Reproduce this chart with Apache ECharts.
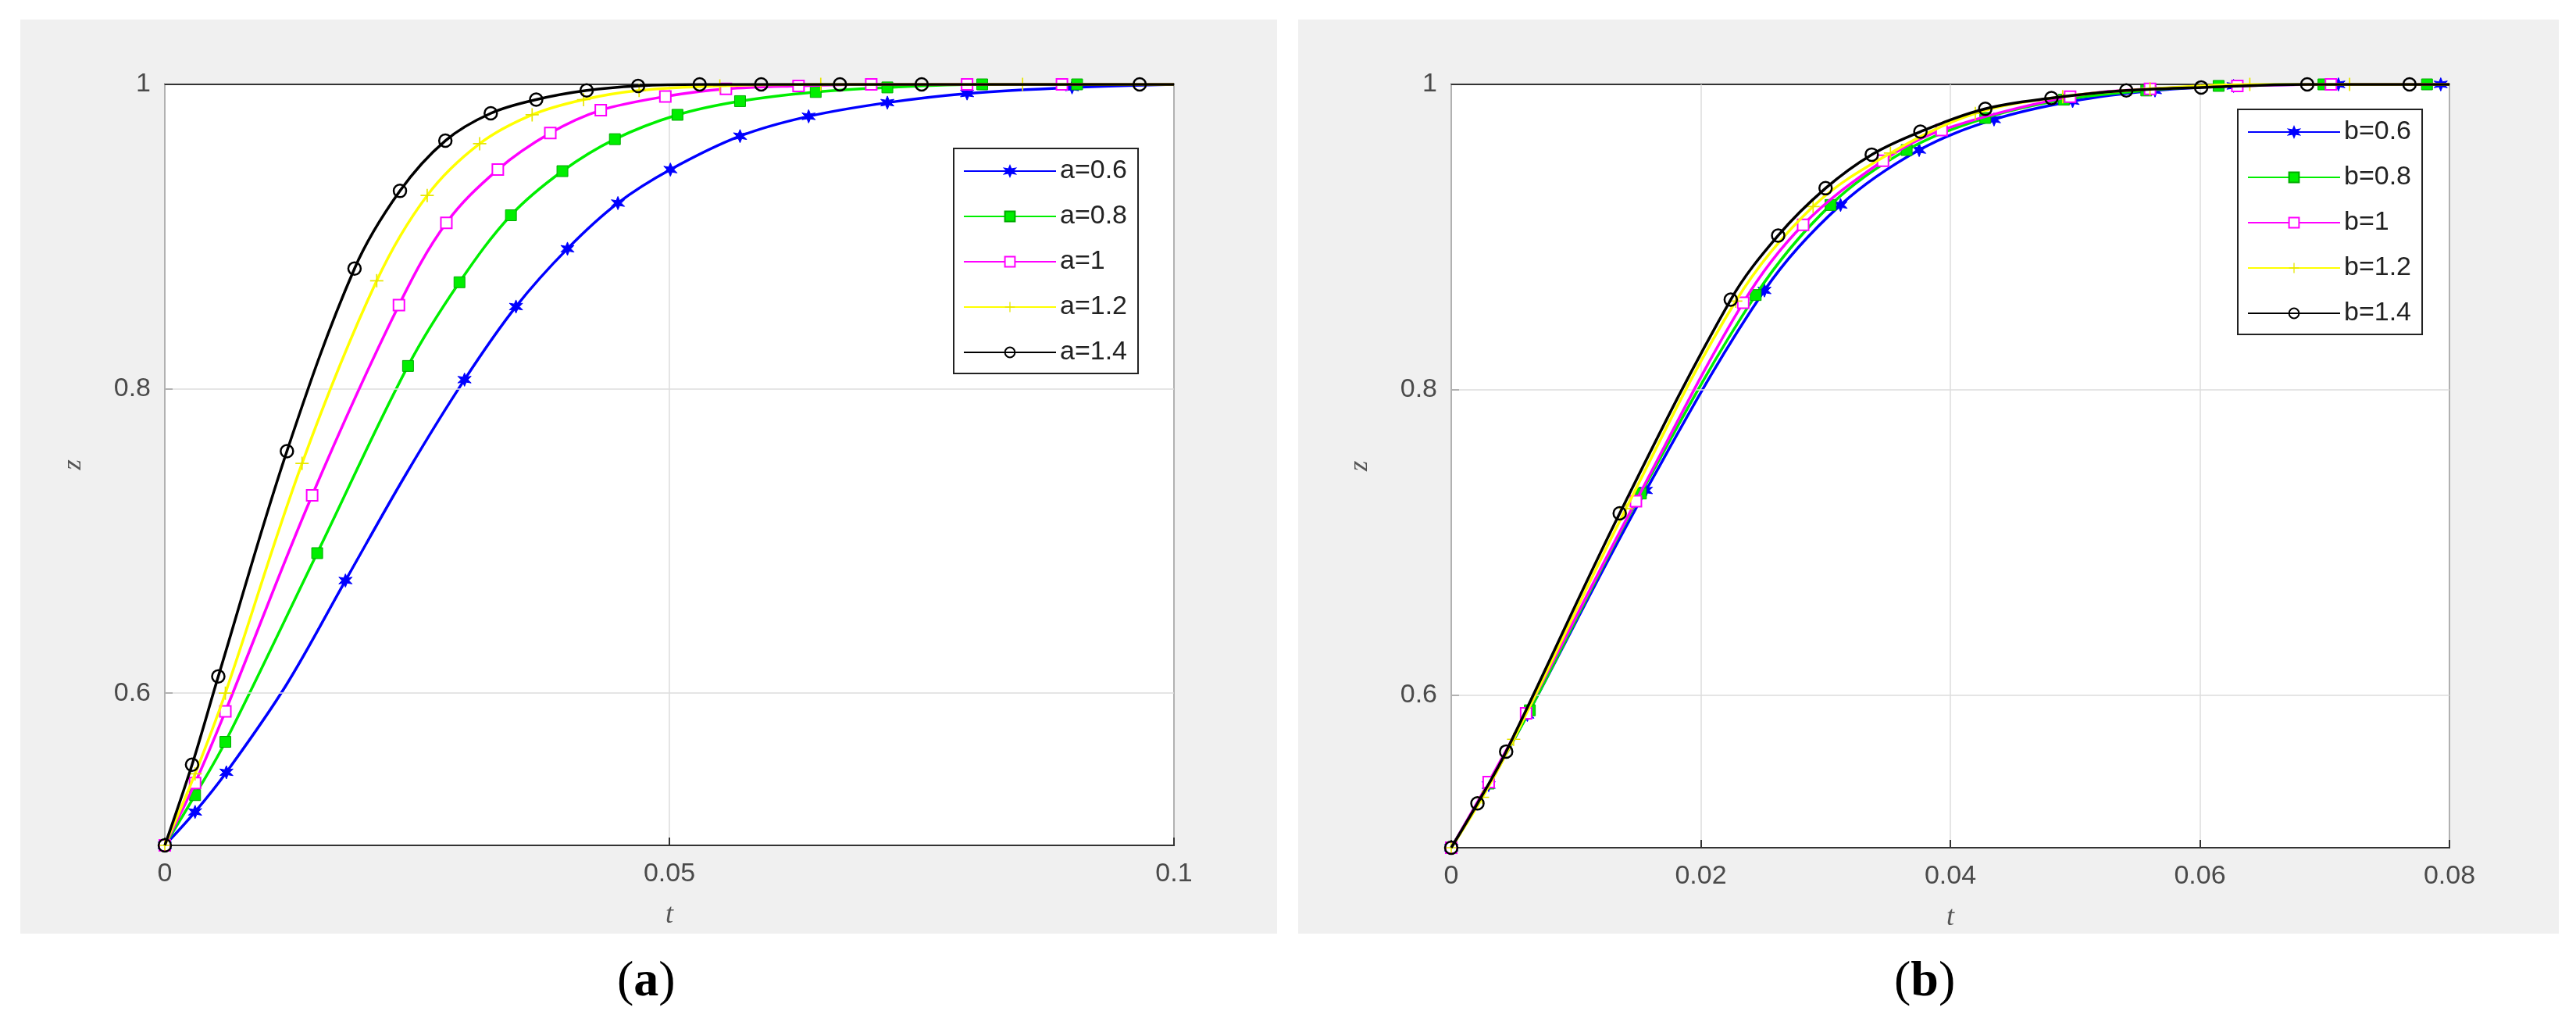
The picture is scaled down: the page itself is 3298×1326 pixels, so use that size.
<!DOCTYPE html>
<html><head><meta charset="utf-8">
<script src="https://cdn.jsdelivr.net/npm/echarts@6/dist/echarts.min.js"></script>
<style>html,body{margin:0;padding:0;background:#fff}#c{width:3298px;height:1326px}</style>
</head><body><div id="c"></div>
<script>
// Panel (a)
const a06 = [[0,0.5],[0.003,0.522],[0.0061,0.548],[0.012,0.605],[0.0179,0.674],[0.024,0.745],[0.0297,0.806],[0.0348,0.854],[0.0399,0.892],[0.0449,0.922],[0.0501,0.944],[0.057,0.966],[0.0638,0.979],[0.0716,0.988],[0.0795,0.994],[0.0899,0.998],[0.1,1.0]];
const a08 = [[0,0.5],[0.003,0.533],[0.006,0.568],[0.0151,0.692],[0.0241,0.815],[0.0292,0.870],[0.0343,0.914],[0.0394,0.943],[0.0446,0.964],[0.0508,0.980],[0.057,0.989],[0.0645,0.995],[0.0716,0.998],[0.081,1.0],[0.0904,1.0],[0.1,1.0]];
const a10 = [[0,0.5],[0.003,0.541],[0.006,0.588],[0.0146,0.730],[0.0232,0.855],[0.0279,0.909],[0.033,0.944],[0.0382,0.968],[0.0432,0.983],[0.0496,0.992],[0.0556,0.997],[0.0628,0.999],[0.07,1.0],[0.0795,1.0],[0.0889,1.0],[0.1,1.0]];
const a12 = [[0,0.5],[0.003,0.547],[0.006,0.600],[0.0136,0.751],[0.021,0.871],[0.026,0.927],[0.0312,0.961],[0.0364,0.980],[0.0415,0.990],[0.047,0.996],[0.055,0.999],[0.065,1.0],[0.085,1.0],[0.1,1.0]];
const a14 = [[0,0.5],[0.0027,0.553],[0.0053,0.611],[0.0121,0.759],[0.0188,0.879],[0.0233,0.930],[0.0278,0.963],[0.0323,0.981],[0.0368,0.990],[0.0418,0.996],[0.0469,0.999],[0.053,1.0],[0.0591,1.0],[0.0669,1.0],[0.075,1.0],[0.0966,1.0],[0.1,1.0]];
// Panel (b)
const b06 = [[0,0.5],[0.003,0.541],[0.0061,0.587],[0.0156,0.734],[0.0251,0.865],[0.0312,0.921],[0.0375,0.957],[0.0435,0.977],[0.0498,0.989],[0.0564,0.996],[0.0627,0.999],[0.0711,1.0],[0.0793,1.0],[0.08,1.0]];
const b08 = [[0,0.5],[0.003,0.542],[0.0063,0.590],[0.0152,0.732],[0.0244,0.862],[0.0304,0.921],[0.0365,0.957],[0.0428,0.978],[0.0491,0.990],[0.0557,0.996],[0.0615,0.999],[0.0699,1.0],[0.0782,1.0],[0.08,1.0]];
const b10 = [[0,0.5],[0.003,0.543],[0.006,0.588],[0.0148,0.727],[0.0234,0.857],[0.0282,0.908],[0.0346,0.950],[0.0393,0.970],[0.0496,0.992],[0.0560,0.997],[0.0630,0.999],[0.0705,1.0],[0.08,1.0]];
const b12 = [[0,0.5],[0.0025,0.533],[0.005,0.571],[0.0140,0.722],[0.0228,0.858],[0.0290,0.920],[0.0352,0.955],[0.0420,0.981],[0.0490,0.992],[0.0560,0.997],[0.0640,1.0],[0.0720,1.0],[0.08,1.0]];
const b14 = [[0,0.5],[0.0021,0.529],[0.0044,0.563],[0.0135,0.719],[0.0224,0.859],[0.0262,0.901],[0.030,0.932],[0.0337,0.954],[0.0376,0.969],[0.0428,0.984],[0.0481,0.991],[0.0541,0.996],[0.0601,0.998],[0.0686,1.0],[0.0768,1.0],[0.08,1.0]];
// t values on curve without a marker (curve-shape points and axis-end points)
const unmarkedT = [0.012,0.024,0.1,0.08];
const namesA = ['a=0.6','a=0.8','a=1','a=1.2','a=1.4'];
const namesB = ['b=0.6','b=0.8','b=1','b=1.2','b=1.4'];
const yTicks = [0.6,0.8,1];

const colors = ['#0000ff','#00ee00','#ff00ff','#ffff00','#000000'];
const star = 'path://M50,0 L61,31 L93,25 L72,50 L93,75 L61,69 L50,100 L39,69 L7,75 L28,50 L7,25 L39,31 Z';
const plus = 'path://M45,0 H55 V45 H100 V55 H55 V100 H45 V55 H0 V45 H45 Z';
const symList = [star,'rect','rect',plus,'circle'];
const symStyle = [
  {color:'#0000ff',borderColor:'#0000ff',borderWidth:1},
  {color:'#00ee00',borderColor:'#00aa00',borderWidth:1},
  {color:'#fff',borderColor:'#ff00ff',borderWidth:2},
  {color:'#e6e600',borderColor:'#e6e600',borderWidth:0},
  {color:'rgba(255,255,255,0)',borderColor:'#000',borderWidth:2.5}
];
const symSize = [17,14,14,17,16];

function mk(data, names, gi){
  return data.map((d,i)=>({
    name:names[i], type:'line', xAxisIndex:gi, yAxisIndex:gi,
    data:d.map(p=>unmarkedT.includes(p[0])?{value:p,symbol:'none'}:p), smooth:0.35,
    symbol:symList[i], symbolSize:symSize[i], showAllSymbol:true,
    lineStyle:{color:colors[i],width:3.5}, itemStyle:symStyle[i], z:3+i,
    markLine: i===0 ? {silent:true,symbol:'none',label:{show:false},
      lineStyle:{color:'#dcdcdc',width:1.5,type:'solid'},
      data:[{yAxis:0.6},{yAxis:0.8}]} : undefined
  }));
}
const lab = {color:'#4a4a4a',fontSize:34,fontFamily:'Liberation Sans, Arial'};
function xax(gi,max,intv){return {type:'value',gridIndex:gi,min:0,max:max,interval:intv,
  axisLine:{show:false},axisTick:{inside:true,length:10,lineStyle:{color:'#333',width:2}},
  axisLabel:Object.assign({margin:20,formatter:v=>String(+v.toFixed(3))},lab),
  splitLine:{show:true,lineStyle:{color:'#dcdcdc',width:1.5}},
  name:'t',nameLocation:'middle',nameGap:72,nameTextStyle:{color:'#555',fontSize:36,fontStyle:'italic',fontFamily:'Liberation Serif'}};}
function yax(gi){return {type:'value',gridIndex:gi,min:0.5,max:1,
  axisLine:{show:false},
  axisTick:{inside:true,length:10,customValues:yTicks,lineStyle:{color:'#333',width:2}},
  axisLabel:Object.assign({margin:18,customValues:yTicks,formatter:v=>String(+v.toFixed(2))},lab),
  splitLine:{show:false},
  name:'z',nameLocation:'middle',nameGap:100,nameRotate:90,nameTextStyle:{color:'#555',fontSize:34,fontStyle:'italic',fontFamily:'Liberation Serif'}};}
function leg(gi,names,left,top){return {data:names,orient:'vertical',left:left,top:top,
  backgroundColor:'#fff',borderColor:'#222',borderWidth:2,borderRadius:0,padding:[12,14,10,12],
  itemWidth:118,itemHeight:16,itemGap:24,textStyle:{fontSize:34,color:'#222',fontFamily:'Liberation Sans, Arial'}};}

const chart = echarts.init(document.getElementById('c'));
chart.setOption({
  backgroundColor:'#fff', animation:false,
  graphic:[
    {type:'rect',shape:{x:26,y:25,width:1609,height:1170},style:{fill:'#f0f0f0'},z:-10},
    {type:'rect',shape:{x:1662,y:25,width:1614,height:1170},style:{fill:'#f0f0f0'},z:-10},
    {type:'text',left:790,top:1225,style:{text:'({b|a})',rich:{b:{fontWeight:'bold',fontSize:64,fontFamily:'Liberation Serif'}},fontSize:64,fontFamily:'Liberation Serif',fill:'#000'}},
    {type:'text',left:2425,top:1225,style:{text:'({b|b})',rich:{b:{fontWeight:'bold',fontSize:64,fontFamily:'Liberation Serif'}},fontSize:64,fontFamily:'Liberation Serif',fill:'#000'}}
  ],
  grid:[
    {left:211,top:108,width:1292,height:974,show:true,backgroundColor:'#fff',borderColor:'#333',borderWidth:2},
    {left:1858,top:108,width:1278,height:977,show:true,backgroundColor:'#fff',borderColor:'#333',borderWidth:2}
  ],
  xAxis:[xax(0,0.1,0.05),xax(1,0.08,0.02)],
  yAxis:[yax(0),yax(1)],
  legend:[leg(0,namesA,1221,190),leg(1,namesB,2865,140)],
  series:[...mk([a06,a08,a10,a12,a14],namesA,0),...mk([b06,b08,b10,b12,b14],namesB,1)]
});
</script></body></html>
